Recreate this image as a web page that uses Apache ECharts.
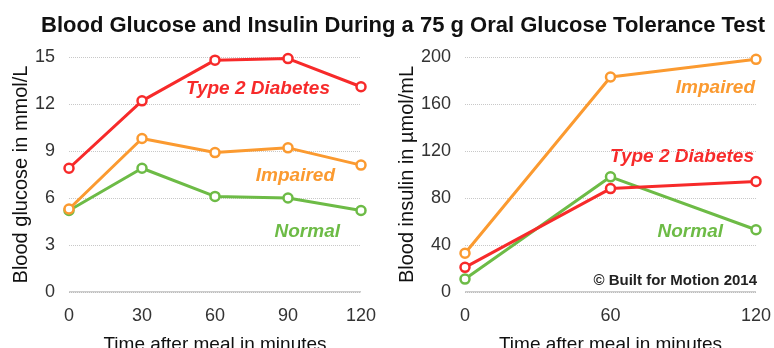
<!DOCTYPE html>
<html><head><meta charset="utf-8">
<script src="https://cdn.jsdelivr.net/npm/echarts@6/dist/echarts.min.js"></script>
<style>html,body{margin:0;padding:0;background:#fff}#c{width:774px;height:348px}</style>
</head><body><div id="c"></div>
<script>
const glucoseTimes = [0, 30, 60, 90, 120];
const glucoseType2 = [7.9, 12.2, 14.8, 14.9, 13.1];
const glucoseImpaired = [5.3, 9.8, 8.9, 9.2, 8.1];
const glucoseNormal = [5.2, 7.9, 6.1, 6.0, 5.2];
const insulinTimes = [0, 60, 120];
const insulinImpaired = [33, 183, 198];
const insulinType2 = [21, 88, 94];
const insulinNormal = [11, 98, 53];

const RED = '#f72a2a', ORANGE = '#fb9a30', GREEN = '#6dbb46';
const FONT = 'Liberation Sans, Arial, sans-serif';
const pairs = (xs, ys) => xs.map((x, i) => [x, ys[i]]);

const chart = echarts.init(document.getElementById('c'));
const axisLbl = { fontSize: 18, color: '#333', fontFamily: FONT };
function xAx(idx, interval) {
  return { gridIndex: idx, type: 'value', min: 0, max: 120, interval: interval,
    axisLine: { show: false }, axisTick: { show: false }, splitLine: { show: false },
    axisLabel: Object.assign({ margin: 15 }, axisLbl),
    name: 'Time after meal in minutes', nameLocation: 'middle', nameGap: 43,
    nameTextStyle: { fontSize: 19, color: '#111', fontFamily: FONT } };
}
function yAx(idx, max, interval, name) {
  return { gridIndex: idx, type: 'value', min: 0, max: max, interval: interval,
    axisLine: { show: false }, axisTick: { show: false },
    splitLine: { show: true, lineStyle: { color: '#c8c8c8', type: [1, 1], width: 1 } },
    axisLabel: Object.assign({ margin: 14 }, axisLbl),
    name: name, nameLocation: 'middle', nameGap: idx === 0 ? 38 : 34,
    nameTextStyle: { fontSize: 20, color: '#111', fontFamily: FONT } };
}
function ser(xi, data, color) {
  return { type: 'line', xAxisIndex: xi, yAxisIndex: xi, data: data,
    symbol: 'circle', symbolSize: 9, showSymbol: true,
    lineStyle: { color: color, width: 3 },
    itemStyle: { color: '#fff', borderColor: color, borderWidth: 2.5 },
    animation: false, z: 3 };
}
function baseLine(xi) {
  return { type: 'line', xAxisIndex: xi, yAxisIndex: xi, data: [[0, 0], [120, 0]],
    symbol: 'none', lineStyle: { color: '#999', width: 1 }, animation: false, z: 1, silent: true };
}
function txt(x, y, t, color, size, weight, style, align) {
  return { type: 'text', x: x, y: y, style: { text: t, fill: color,
    font: (style || 'italic') + ' ' + (weight || 'bold') + ' ' + size + 'px ' + FONT,
    textAlign: align || 'left', textVerticalAlign: 'middle' } };
}
chart.setOption({
  animation: false,
  title: { text: 'Blood Glucose and Insulin During a 75 g Oral Glucose Tolerance Test',
    left: 36, top: 10, textStyle: { fontSize: 22, fontWeight: 'bold', color: '#111', fontFamily: FONT } },
  grid: [
    { left: 69, width: 292, top: 57, height: 235, outerBoundsMode: 'none', containLabel: false },
    { left: 465, width: 291, top: 57, height: 235, outerBoundsMode: 'none', containLabel: false }
  ],
  xAxis: [xAx(0, 30), xAx(1, 60)],
  yAxis: [yAx(0, 15, 3, 'Blood glucose in mmol/L'), yAx(1, 200, 40, 'Blood insulin in µmol/mL')],
  series: [
    baseLine(0), baseLine(1),
    ser(0, pairs(glucoseTimes, glucoseNormal), GREEN),
    ser(0, pairs(glucoseTimes, glucoseImpaired), ORANGE),
    ser(0, pairs(glucoseTimes, glucoseType2), RED),
    ser(1, pairs(insulinTimes, insulinImpaired), ORANGE),
    ser(1, pairs(insulinTimes, insulinNormal), GREEN),
    ser(1, pairs(insulinTimes, insulinType2), RED)
  ],
  graphic: [
    txt(330, 89, 'Type 2 Diabetes', RED, 19, 'bold', 'italic', 'right'),
    txt(335, 176, 'Impaired', ORANGE, 19, 'bold', 'italic', 'right'),
    txt(340, 232, 'Normal', GREEN, 19, 'bold', 'italic', 'right'),
    txt(755, 88, 'Impaired', ORANGE, 19, 'bold', 'italic', 'right'),
    txt(754, 157, 'Type 2 Diabetes', RED, 19, 'bold', 'italic', 'right'),
    txt(723, 232, 'Normal', GREEN, 19, 'bold', 'italic', 'right'),
    txt(757, 281, '© Built for Motion 2014', '#222', 15, 'bold', 'normal', 'right')
  ]
});
</script></body></html>
